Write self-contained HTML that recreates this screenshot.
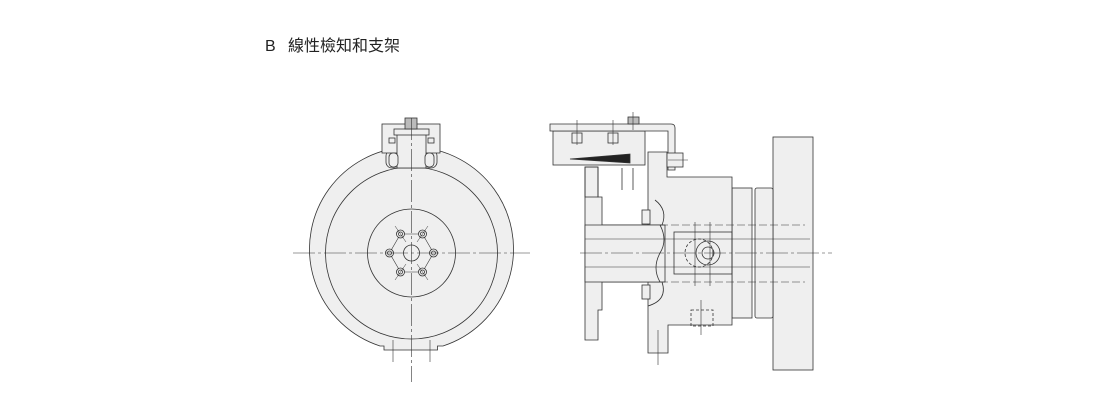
<!DOCTYPE html>
<html><head><meta charset="utf-8"><style>
html,body{margin:0;padding:0;background:#fff;width:1100px;height:400px;overflow:hidden}
svg{display:block}
</style></head><body>
<svg width="1100" height="400" viewBox="0 0 1100 400" xmlns="http://www.w3.org/2000/svg">
<text x="265" y="51" font-family="Liberation Sans, Noto Sans CJK TC, sans-serif" font-size="16" fill="#222">B</text>
<text x="288" y="51" font-family="Liberation Sans, Noto Sans CJK TC, sans-serif" font-size="16" fill="#222">線性檢知和支架</text>

<g stroke="#333" stroke-width="0.8" fill="#efefef">
<!-- LEFT VIEW -->
<path d="M380,346 A102,102 0 1 1 443,346 L437.5,346 L437.5,350 L384,350 L384,346 Z"/>
<circle cx="411.5" cy="253" r="86"/>
<circle cx="411.5" cy="253" r="44"/>
<circle cx="411.5" cy="253" r="8"/>
<polygon points="389.5,253 400.5,234 422.5,234 433.5,253 422.5,272 400.5,272" fill="none" stroke-width="0.6"/>
<g fill="#efefef">
<circle cx="389.5" cy="253" r="4"/><circle cx="389.5" cy="253" r="2"/>
<circle cx="433.5" cy="253" r="4"/><circle cx="433.5" cy="253" r="2"/>
<circle cx="400.5" cy="234" r="4"/><circle cx="400.5" cy="234" r="2"/>
<circle cx="422.5" cy="234" r="4"/><circle cx="422.5" cy="234" r="2"/>
<circle cx="400.5" cy="272" r="4"/><circle cx="400.5" cy="272" r="2"/>
<circle cx="422.5" cy="272" r="4"/><circle cx="422.5" cy="272" r="2"/>
</g>
<g stroke-width="0.5">
<line x1="395" y1="226" x2="406" y2="242"/><line x1="428" y1="226" x2="417" y2="242"/>
<line x1="395" y1="280" x2="406" y2="264"/><line x1="428" y1="280" x2="417" y2="264"/>
</g>
<!-- bracket top -->
<rect x="386" y="150" width="51" height="18" rx="6"/>
<rect x="382" y="124" width="58" height="29"/>
<rect x="397" y="132" width="29" height="36"/>
<rect x="394" y="129" width="35" height="6"/>
<rect x="405" y="118" width="12" height="11" fill="#bbb"/>
<rect x="389" y="153" width="9" height="14" rx="4"/>
<rect x="425" y="153" width="9" height="14" rx="4"/>
<rect x="389" y="138" width="6" height="5"/><rect x="428" y="138" width="6" height="5"/>

<!-- RIGHT VIEW -->
<rect x="773" y="137" width="40" height="233"/>
<rect x="755" y="188" width="18" height="130" rx="2"/>
<rect x="732" y="188" width="20" height="130"/>
<path d="M648,152 L667,152 L667,177 L732,177 L732,325 L668,325 L668,353 L648,353 Z"/>
<path d="M585,167 L598,167 L598,197 L602,197 L602,225 L665,225 L665,282 L602,282 L602,310 L598,310 L598,340 L585,340 Z"/>
<path d="M585,225 L660,225 Q668,240 660,253 Q652,268 660,282 L585,282 Z"/>
<path d="M655,200 Q668,210 662,225 L660,225" fill="none"/>
<path d="M662,282 Q668,300 648,306" fill="none"/>
<rect x="642" y="210" width="8" height="14"/>
<rect x="642" y="285" width="8" height="14"/>
<rect x="674" y="232" width="58" height="42" fill="none"/>
<circle cx="699" cy="253" r="14" fill="none" stroke-dasharray="3,2"/>
<circle cx="708" cy="253" r="12" fill="none"/>
<circle cx="708" cy="253" r="6" fill="none"/>
<rect x="691" y="310" width="22" height="16" fill="none" stroke-dasharray="3,2"/>
<!-- sensor -->
<rect x="553" y="131" width="92" height="34"/>
<path d="M550,124 L671,124 Q675,124 675,128 L675,170 L668,170 L668,131 L550,131 Z"/>
<rect x="667" y="153" width="16" height="14"/>
<rect x="628" y="117" width="11" height="7" fill="#bbb"/>
<rect x="572" y="133" width="10" height="10"/><rect x="608" y="133" width="10" height="10"/>
<polygon points="570,159 630,154 630,163" fill="#222"/>
<rect x="585" y="167" width="13" height="30" fill="none"/>
<line x1="622" y1="168" x2="622" y2="190"/><line x1="633" y1="168" x2="633" y2="190"/>
</g>
<g stroke="#333" stroke-width="0.6" fill="none">
<line x1="293" y1="253" x2="530" y2="253" stroke-dasharray="22,3,3,3"/>
<line x1="411.5" y1="118" x2="411.5" y2="382" stroke-dasharray="22,3,3,3"/>
<line x1="393" y1="340" x2="393" y2="362"/><line x1="430" y1="340" x2="430" y2="362"/>
<line x1="580" y1="253" x2="832" y2="253" stroke-dasharray="22,3,3,3"/>
<line x1="660" y1="225" x2="805" y2="225" stroke-dasharray="8,3"/>
<line x1="660" y1="282" x2="805" y2="282" stroke-dasharray="8,3"/>
<line x1="585" y1="239" x2="810" y2="239"/>
<line x1="585" y1="267" x2="810" y2="267"/>
<line x1="695" y1="222" x2="695" y2="286"/><line x1="710" y1="222" x2="710" y2="286"/>
<line x1="701" y1="300" x2="701" y2="335"/>
<line x1="658" y1="330" x2="658" y2="365"/>
<line x1="577" y1="120" x2="577" y2="145"/><line x1="613" y1="120" x2="613" y2="145"/>
<line x1="633" y1="112" x2="633" y2="130"/>
<line x1="668" y1="160" x2="688" y2="160"/>
</g>
</svg>
</body></html>
